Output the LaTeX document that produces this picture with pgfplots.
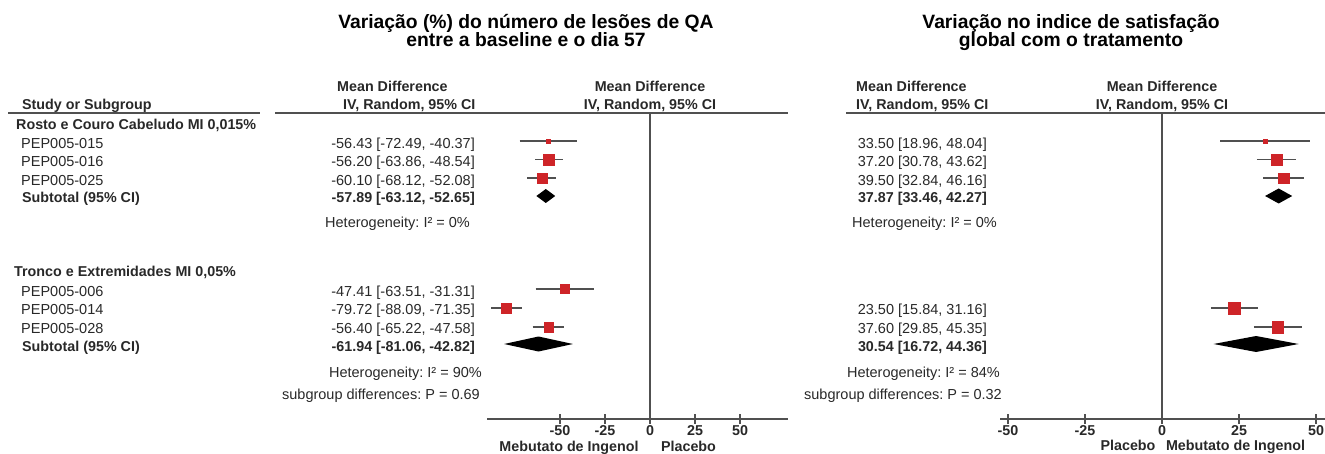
\documentclass[border=0pt]{standalone}
\usepackage{fontspec}
\setmainfont{Liberation Sans}
\usepackage{pgfplots}
\pgfplotsset{compat=1.18}
\frenchspacing
\definecolor{sq}{RGB}{206,36,40}
\definecolor{ln}{RGB}{80,80,80}
\definecolor{tx}{RGB}{40,40,40}
\newcommand{\bt}{\fontsize{14.3}{16}\selectfont\bfseries}
\newcommand{\nt}{\fontsize{14.5}{16}\selectfont}
\newcommand{\ttl}{\fontsize{19.3}{21}\selectfont\bfseries}
\pgfplotsset{forest/.style={
  scale only axis, axis x line=bottom, axis y line=none,
  axis line style={ln, line width=1.8pt, -},
  xtick={-50,-25,0,25,50}, xtick align=center, major tick length=10pt,
  tick style={ln, line width=1.5pt},
  /pgf/number format/assume math mode=true,
  xticklabel style={font=\bt, text=tx, inner sep=1pt},
  ymin=-419, ymax=-113, clip=false, height=306pt}}
\begin{document}
\begin{tikzpicture}[x=1pt,y=1pt]
\useasboundingbox (0,0) rectangle (1325,-454);
% header rules
\draw[ln, line width=1.8pt] (8,-113) -- (260,-113);
\draw[ln, line width=1.8pt] (275,-113) -- (788,-113);
\draw[ln, line width=1.8pt] (846,-113) -- (1325,-113);
% ---------------- left panel texts
\node[anchor=base, font=\ttl] at (526,-29) {Variação (\%) do número de lesões de QA};
\node[anchor=base, font=\ttl] at (526,-46.5) {entre a baseline e o dia 57};
\node[anchor=base west, font=\bt, text=tx, inner sep=0] at (22,-109.5) {Study or Subgroup};
\node[anchor=base west, font=\bt, text=tx, inner sep=0] at (337,-91.5) {Mean Difference};
\node[anchor=base west, font=\bt, text=tx, inner sep=0] at (343,-109.5) {IV, Random, 95\% CI};
\node[anchor=base, font=\bt, text=tx, inner sep=0] at (650,-91.5) {Mean Difference};
\node[anchor=base, font=\bt, text=tx, inner sep=0] at (650,-109.5) {IV, Random, 95\% CI};
\begin{scope}[every node/.style={inner sep=0, text=tx}]
\node[anchor=base west, font=\bt] at (16,-129.5) {Rosto e Couro Cabeludo MI 0,015\%};
\node[anchor=base west, font=\nt] at (21,-148.5) {PEP005-015};
\node[anchor=base west, font=\nt] at (21,-167) {PEP005-016};
\node[anchor=base west, font=\nt] at (21,-185.5) {PEP005-025};
\node[anchor=base west, font=\bt] at (22,-202.5) {Subtotal (95\% CI)};
\node[anchor=base west, font=\bt] at (14,-276.5) {Tronco e Extremidades MI 0,05\%};
\node[anchor=base west, font=\nt] at (21,-296.5) {PEP005-006};
\node[anchor=base west, font=\nt] at (21,-315) {PEP005-014};
\node[anchor=base west, font=\nt] at (21,-334) {PEP005-028};
\node[anchor=base west, font=\bt] at (22,-351) {Subtotal (95\% CI)};
\node[anchor=base east, font=\nt] at (475,-148.5) {-56.43 [-72.49, -40.37]};
\node[anchor=base east, font=\nt] at (475,-167) {-56.20 [-63.86, -48.54]};
\node[anchor=base east, font=\nt] at (475,-185.5) {-60.10 [-68.12, -52.08]};
\node[anchor=base east, font=\bt] at (475,-202.5) {-57.89 [-63.12, -52.65]};
\node[anchor=base west, font=\nt] at (325,-228) {Heterogeneity: I² = 0\%};
\node[anchor=base east, font=\nt] at (475,-296.5) {-47.41 [-63.51, -31.31]};
\node[anchor=base east, font=\nt] at (475,-315) {-79.72 [-88.09, -71.35]};
\node[anchor=base east, font=\nt] at (475,-334) {-56.40 [-65.22, -47.58]};
\node[anchor=base east, font=\bt] at (475,-351) {-61.94 [-81.06, -42.82]};
\node[anchor=base east, font=\nt] at (482,-377) {Heterogeneity: I² = 90\%};
\node[anchor=base east, font=\nt] at (480,-399) {subgroup differences: P = 0.69};
\node[anchor=base, font=\bt] at (569,-451.5) {Mebutato de Ingenol};
\node[anchor=base, font=\bt] at (688.5,-451.5) {Placebo};
% ---------------- right panel texts
\node[anchor=base, font=\ttl, text=black] at (1071,-29) {Variação no indice de satisfação};
\node[anchor=base, font=\ttl, text=black] at (1071,-46.5) {global com o tratamento};
\node[anchor=base west, font=\bt] at (856,-91.5) {Mean Difference};
\node[anchor=base west, font=\bt] at (856,-109.5) {IV, Random, 95\% CI};
\node[anchor=base, font=\bt] at (1162,-91.5) {Mean Difference};
\node[anchor=base, font=\bt] at (1162,-109.5) {IV, Random, 95\% CI};
\node[anchor=base east, font=\nt] at (987,-148.5) {33.50 [18.96, 48.04]};
\node[anchor=base east, font=\nt] at (987,-167) {37.20 [30.78, 43.62]};
\node[anchor=base east, font=\nt] at (987,-185.5) {39.50 [32.84, 46.16]};
\node[anchor=base east, font=\bt] at (987,-202.5) {37.87 [33.46, 42.27]};
\node[anchor=base west, font=\nt] at (852,-228) {Heterogeneity: I² = 0\%};
\node[anchor=base east, font=\nt] at (987,-315) {23.50 [15.84, 31.16]};
\node[anchor=base east, font=\nt] at (987,-334) {37.60 [29.85, 45.35]};
\node[anchor=base east, font=\bt] at (987,-351) {30.54 [16.72, 44.36]};
\node[anchor=base east, font=\nt] at (1000,-377) {Heterogeneity: I² = 84\%};
\node[anchor=base east, font=\nt] at (1002,-399) {subgroup differences: P = 0.32};
\node[anchor=base, font=\bt] at (1128,-450) {Placebo};
\node[anchor=base, font=\bt] at (1235.5,-450) {Mebutato de Ingenol};
\end{scope}
% ---------------- left forest plot
\begin{axis}[forest, at={(487pt,-419pt)}, anchor=south west, width=301pt,
  xmin=-90.56, xmax=76.67]
\addplot[ln, line width=1.8pt] coordinates {(0,-113) (0,-419)};
% CIs
\addplot[ln, line width=1.8pt] coordinates {(-72.49,-141) (-40.37,-141)};
\addplot[ln, line width=1.8pt] coordinates {(-63.86,-159.5) (-48.54,-159.5)};
\addplot[ln, line width=1.8pt] coordinates {(-68.12,-178) (-52.08,-178)};
\addplot[ln, line width=1.8pt] coordinates {(-63.51,-289) (-31.31,-289)};
\addplot[ln, line width=1.8pt] coordinates {(-88.09,-308) (-71.35,-308)};
\addplot[ln, line width=1.8pt] coordinates {(-65.22,-327) (-47.58,-327)};
% point estimates
\addplot[only marks, mark=square*, color=sq, mark size=2pt] coordinates {(-56.43,-141)};
\addplot[only marks, mark=square*, color=sq, mark size=5.6pt] coordinates {(-56.20,-159.5)};
\addplot[only marks, mark=square*, color=sq, mark size=5pt] coordinates {(-60.10,-178)};
\addplot[only marks, mark=square*, color=sq, mark size=4.6pt] coordinates {(-47.41,-289)};
\addplot[only marks, mark=square*, color=sq, mark size=5pt] coordinates {(-79.72,-308)};
\addplot[only marks, mark=square*, color=sq, mark size=4.7pt] coordinates {(-56.40,-327)};
% subtotals
\addplot[fill=black, draw=none] coordinates {(-63.12,-196) (-57.89,-189) (-52.65,-196) (-57.89,-203) (-63.12,-196)};
\addplot[fill=black, draw=none] coordinates {(-81.06,-344) (-61.94,-336.5) (-42.82,-344) (-61.94,-351.5) (-81.06,-344)};
\end{axis}
% ---------------- right forest plot
\begin{axis}[forest, at={(1000pt,-419pt)}, anchor=south west, width=325pt,
  xmin=-52.6, xmax=52.92]
\addplot[ln, line width=1.8pt] coordinates {(0,-113) (0,-419)};
\addplot[ln, line width=1.8pt] coordinates {(18.96,-141) (48.04,-141)};
\addplot[ln, line width=1.8pt] coordinates {(30.78,-159.5) (43.62,-159.5)};
\addplot[ln, line width=1.8pt] coordinates {(32.84,-178) (46.16,-178)};
\addplot[ln, line width=1.8pt] coordinates {(15.84,-308) (31.16,-308)};
\addplot[ln, line width=1.8pt] coordinates {(29.85,-327) (45.35,-327)};
\addplot[only marks, mark=square*, color=sq, mark size=2pt] coordinates {(33.50,-141)};
\addplot[only marks, mark=square*, color=sq, mark size=5.4pt] coordinates {(37.20,-159.5)};
\addplot[only marks, mark=square*, color=sq, mark size=5.2pt] coordinates {(39.50,-178)};
\addplot[only marks, mark=square*, color=sq, mark size=6pt] coordinates {(23.50,-308)};
\addplot[only marks, mark=square*, color=sq, mark size=5.8pt] coordinates {(37.60,-327)};
\addplot[fill=black, draw=none] coordinates {(33.46,-196) (37.87,-188.5) (42.27,-196) (37.87,-203.5) (33.46,-196)};
\addplot[fill=black, draw=none] coordinates {(16.72,-344) (30.54,-336) (44.36,-344) (30.54,-352) (16.72,-344)};
\end{axis}
\end{tikzpicture}
\end{document}
